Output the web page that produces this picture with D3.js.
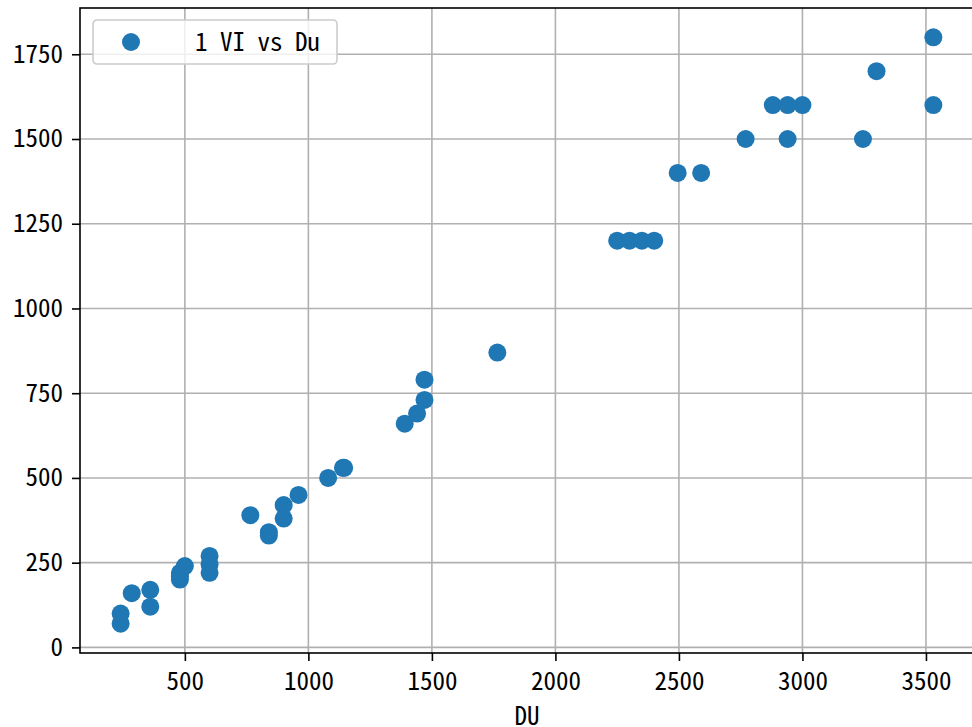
<!DOCTYPE html>
<html>
<head>
<meta charset="utf-8">
<script src="https://cdn.jsdelivr.net/npm/d3@7"></script>
<style>
  html, body { margin: 0; padding: 0; background: #fff; }
  svg text { font-family: "Noto Sans Mono CJK JP", "DejaVu Sans Mono", monospace; fill: #000; }
</style>
</head>
<body>
<svg id="chart" width="972" height="727"></svg>
<script>
// DU values and matching VI values
const du = [
  240, 240, 285, 360, 360, 480, 480, 480, 500, 600, 600, 600,
  765, 840, 840, 900, 900, 960, 1080, 1140, 1145,
  1390, 1440, 1470, 1470, 1765,
  2250, 2300, 2350, 2400, 2495, 2590,
  2770, 2880, 2940, 2940, 3000, 3245, 3300, 3530, 3530
];
const vi = [
  70, 100, 160, 170, 120, 200, 210, 220, 240, 270, 245, 220,
  390, 340, 330, 420, 380, 450, 500, 530, 530,
  660, 690, 730, 790, 870,
  1200, 1200, 1200, 1200, 1400, 1400,
  1500, 1600, 1600, 1500, 1600, 1500, 1700, 1800, 1600
];
const xTicks = [500, 1000, 1500, 2000, 2500, 3000, 3500];
const yTicks = [0, 250, 500, 750, 1000, 1250, 1500, 1750];
const seriesLabel = '1 VI vs Du';
const xLabel = 'DU';

const points = du.map((d, i) => ({ du: d, vi: vi[i] }));

const svg = d3.select('#chart');
const margin = { top: 8, right: -2, bottom: 74, left: 80 };
const width = 972, height = 727;
const innerW = width - margin.left - margin.right;
const innerH = height - margin.top - margin.bottom;
const fontSize = 25;

// matplotlib style 5% padding
const pad = (ext) => {
  const r = ext[1] - ext[0];
  return [ext[0] - r * 0.05, ext[1] + r * 0.05];
};
const x = d3.scaleLinear().domain(pad(d3.extent(du))).range([0, innerW]);
const y = d3.scaleLinear().domain(pad(d3.extent(vi))).range([innerH, 0]);

const g = svg.append('g').attr('transform', `translate(${margin.left}, ${margin.top})`);

// grid
g.append('g')
  .selectAll('line.vx')
  .data(xTicks)
  .join('line')
  .attr('x1', d => x(d)).attr('x2', d => x(d))
  .attr('y1', 0).attr('y2', innerH)
  .attr('stroke', '#b0b0b0').attr('stroke-width', 1.6);
g.append('g')
  .selectAll('line.hy')
  .data(yTicks)
  .join('line')
  .attr('x1', 0).attr('x2', innerW)
  .attr('y1', d => y(d)).attr('y2', d => y(d))
  .attr('stroke', '#b0b0b0').attr('stroke-width', 1.6);

// points
g.append('g')
  .selectAll('circle.dot')
  .data(points)
  .join('circle')
  .attr('class', 'dot')
  .attr('cx', d => x(d.du))
  .attr('cy', d => y(d.vi))
  .attr('r', 9)
  .attr('fill', '#1f77b4');

// axes
const xAxis = g.append('g')
  .attr('transform', `translate(0, ${innerH})`)
  .call(d3.axisBottom(x).tickValues(xTicks).tickSize(8).tickPadding(11).tickFormat(d => d.toString()));
const yAxis = g.append('g')
  .call(d3.axisLeft(y).tickValues(yTicks).tickSize(8).tickPadding(9).tickFormat(d => d.toString()));
[xAxis, yAxis].forEach(a => {
  a.select('.domain').remove();
  a.selectAll('.tick line').attr('stroke', '#000').attr('stroke-width', 1.6);
  a.selectAll('.tick text').attr('font-size', fontSize).attr('font-family', null);
});

// spines
g.append('rect')
  .attr('x', 0).attr('y', 0)
  .attr('width', innerW).attr('height', innerH)
  .attr('fill', 'none').attr('stroke', '#000').attr('stroke-width', 1.6);

// x label
g.append('text')
  .attr('x', innerW / 2)
  .attr('y', innerH + 72)
  .attr('text-anchor', 'middle')
  .attr('font-size', fontSize)
  .text(xLabel);

// legend
const legend = g.append('g').attr('transform', 'translate(13, 12)');
legend.append('rect')
  .attr('width', 244).attr('height', 44)
  .attr('rx', 4)
  .attr('fill', '#fff').attr('fill-opacity', 0.8)
  .attr('stroke', '#cccccc').attr('stroke-width', 1.6);
legend.append('circle')
  .attr('cx', 38).attr('cy', 22).attr('r', 9)
  .attr('fill', '#1f77b4');
legend.append('text')
  .attr('x', 102).attr('y', 22)
  .attr('dy', '0.35em')
  .attr('font-size', fontSize)
  .text(seriesLabel);
</script>
</body>
</html>
